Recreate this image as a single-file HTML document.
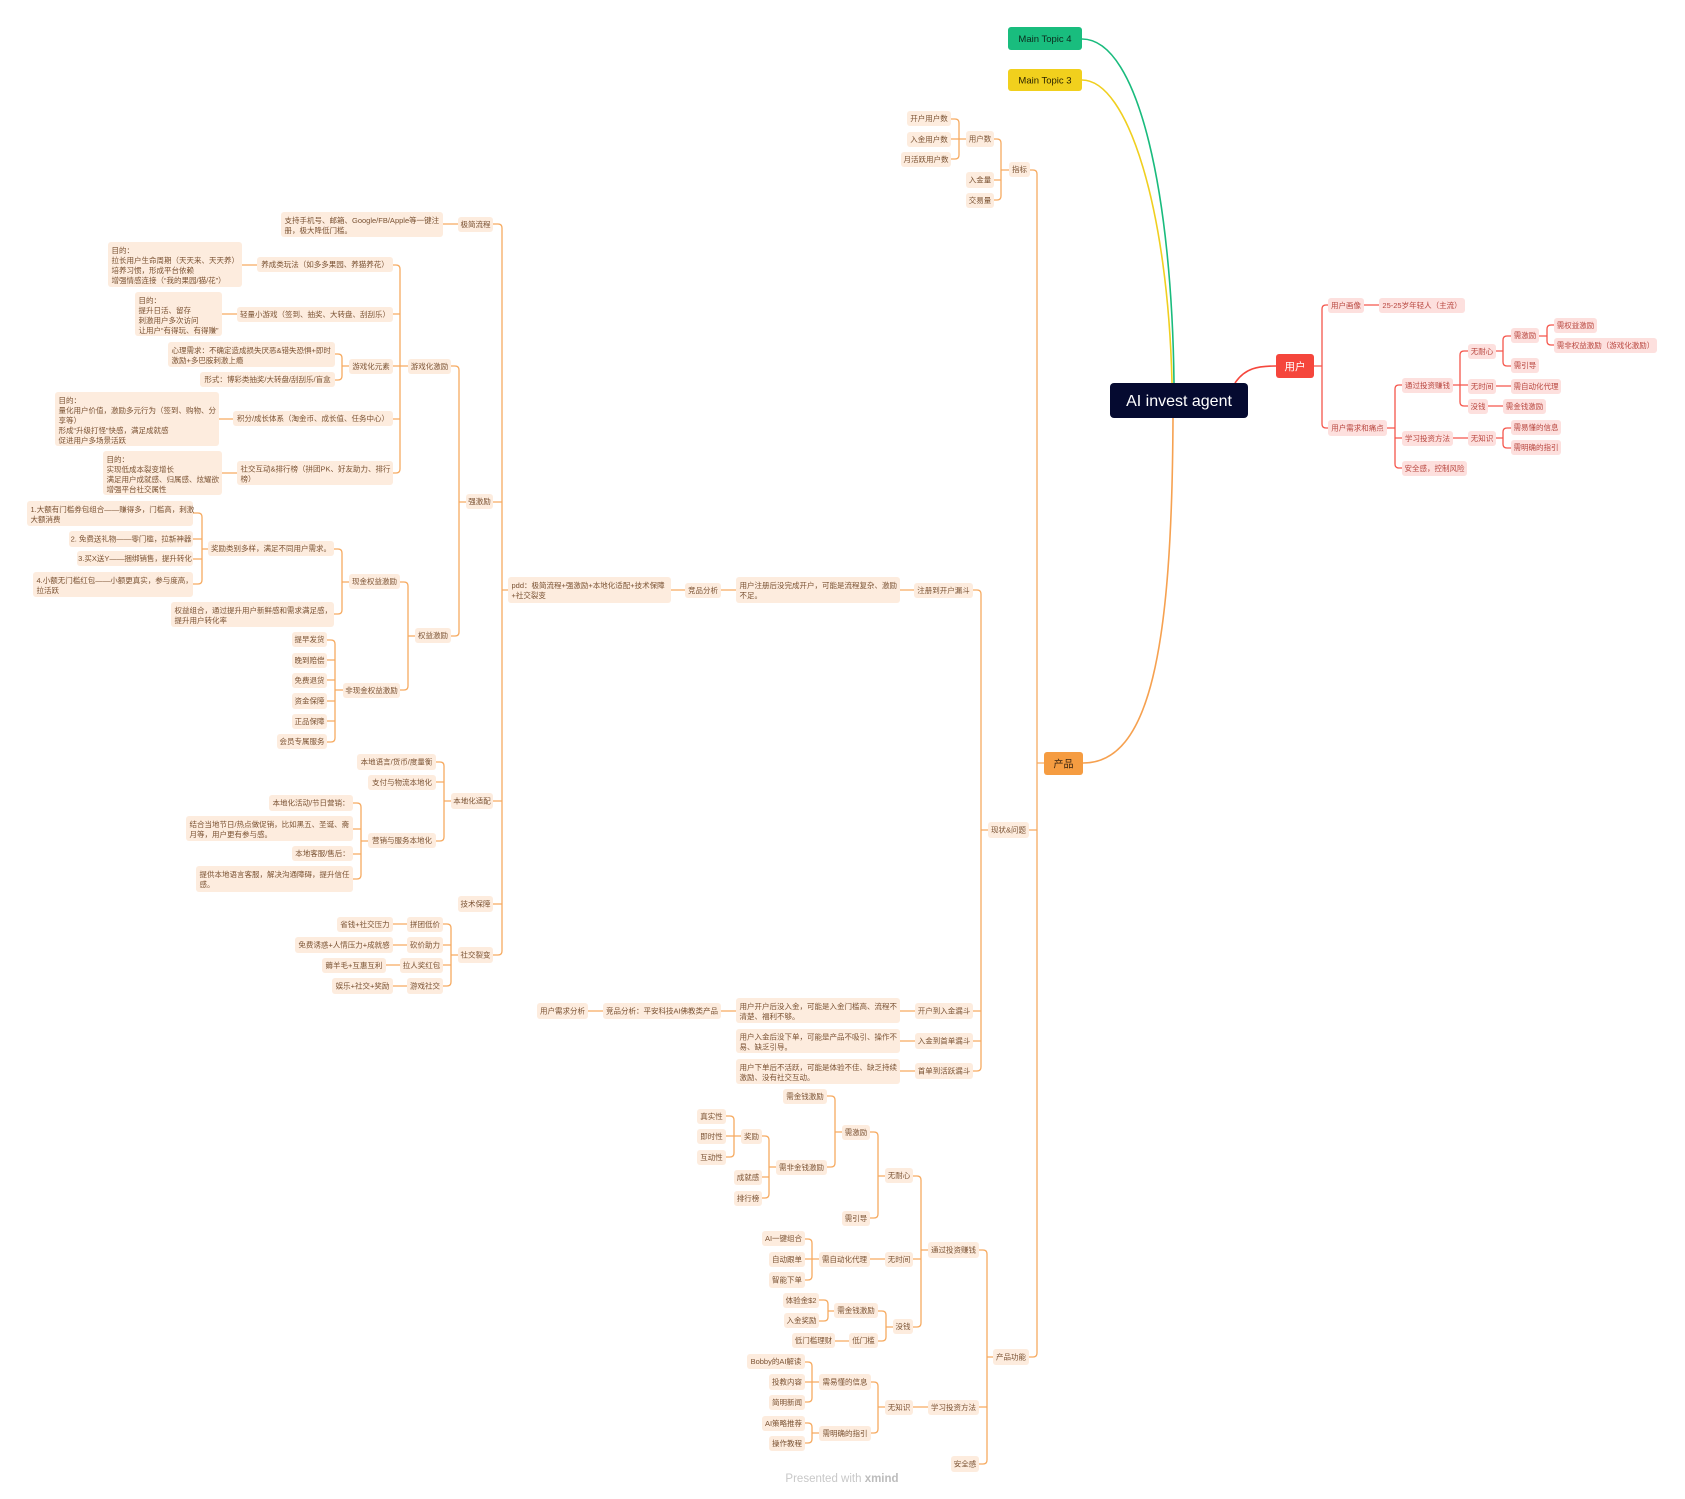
<!DOCTYPE html>
<html><head><meta charset="utf-8">
<style>
html,body{margin:0;padding:0;background:#fff;}
svg{display:block;}
svg text{font-family:"Liberation Sans","Noto Sans CJK SC",sans-serif;font-size:7.5px;}
.o rect{fill:#fdecde;}
.o text{fill:#7a5233;}
.r rect{fill:#fde0de;}
.r text{fill:#b8463f;}
.c{text-anchor:middle;}
.lo{stroke:#f6aa60;fill:none;stroke-width:1.3;}
.lr{stroke:#f5564c;fill:none;stroke-width:1.3;}
</style></head>
<body>
<svg width="1685" height="1499" viewBox="0 0 1685 1499" xmlns="http://www.w3.org/2000/svg">
<!-- main curves -->
<path d="M1082,39 C1140,39 1172,200 1174,383" stroke="#19bb7d" stroke-width="1.6" fill="none"/>
<path d="M1082,80 C1128,80 1168,210 1172,383" stroke="#f0cf1f" stroke-width="1.6" fill="none"/>
<path d="M1173,418 C1172,650 1150,763 1083,763" stroke="#f6a150" stroke-width="1.6" fill="none"/>
<path d="M1235,383 C1245,368 1258,366 1276,366" stroke="#f5473d" stroke-width="1.6" fill="none"/>

<!-- orange connectors -->
<path class="lo" d="
M1044,763 H1037 M1037,763 V174 Q1037,170 1033,170 H1030 M1037,830 H1029 M1037,763 V1353 Q1037,1357 1033,1357 H1029
M1009,170 H1001 M1001,170 V143 Q1001,139 997,139 H994 M1001,180 H994 M1001,170 V196 Q1001,200 997,200 H994
M966,139 H951 M959,139 V123 Q959,119 955,119 H951 M959,139 V155 Q959,159 955,159 H951
M988,830 H981 M981,830 V594 Q981,590 977,590 H973 M981,1011 H973 M981,1041 H973 M981,830 V1067 Q981,1071 977,1071 H973
M914,590 H900 M736,590 H721 M685,590 H671
M915,1011 H900 M736,1011 H721 M603,1011 H588
M915,1041 H900 M915,1071 H900
M508,590 H502 M502,590 V228 Q502,224 498,224 H493 M502,502 H493 M502,801 H493 M502,904 H493 M502,590 V951 Q502,955 498,955 H493
M458,224 H443
M466,502 H459 M459,502 V370 Q459,366 455,366 H451 M459,502 V632 Q459,636 455,636 H451
M408,366 H393 M400,366 V269 Q400,265 396,265 H393 M400,314 H393 M400,419 H393 M400,366 V469 Q400,473 396,473 H393
M257,265 H242 M237,314 H222 M233,419 H219 M237,473 H222
M349,366 H342 M342,366 V358 Q342,354 338,354 H335 M342,366 V376 Q342,380 338,380 H335
M415,636 H408 M408,636 V586 Q408,582 404,582 H400 M408,636 V686 Q408,690 404,690 H400
M349,582 H342 M342,582 V553 Q342,549 338,549 H334 M342,582 V610 Q342,614 338,614 H334
M208,549 H202 M202,549 V517 Q202,513 198,513 H193 M202,539 H193 M202,559 H193 M202,549 V580 Q202,584 198,584 H193
M343,690 H335 M335,690 V644 Q335,640 331,640 H327 M335,660 H327 M335,680 H327 M335,701 H327 M335,721 H327 M335,690 V738 Q335,742 331,742 H327
M451,801 H444 M444,801 V766 Q444,762 440,762 H436 M444,782 H436 M444,801 V837 Q444,841 440,841 H436
M368,841 H361 M361,841 V807 Q361,803 357,803 H353 M361,829 H353 M361,854 H353 M361,841 V875 Q361,879 357,879 H353
M458,955 H451 M451,955 V928 Q451,924 447,924 H443 M451,945 H443 M451,965 H443 M451,955 V982 Q451,986 447,986 H443
M407,924 H393 M407,945 H393 M400,965 H386 M407,986 H393
M993,1357 H987 M987,1357 V1254 Q987,1250 983,1250 H979 M987,1407 H979 M987,1357 V1460 Q987,1464 983,1464 H979
M928,1250 H921 M921,1250 V1180 Q921,1176 917,1176 H913 M921,1259 H913 M921,1250 V1323 Q921,1327 917,1327 H913
M885,1176 H878 M878,1176 V1136 Q878,1132 874,1132 H870 M878,1176 V1214 Q878,1218 874,1218 H870
M842,1132 H835 M835,1132 V1100 Q835,1096 831,1096 H827 M835,1132 V1163 Q835,1167 831,1167 H827
M776,1167 H769 M769,1167 V1140 Q769,1136 765,1136 H762 M769,1177 H762 M769,1167 V1194 Q769,1198 765,1198 H762
M741,1136 H726 M734,1136 V1120 Q734,1116 730,1116 H726 M734,1136 V1153 Q734,1157 730,1157 H726
M885,1259 H870
M819,1259 H805 M812,1259 V1243 Q812,1239 808,1239 H805 M812,1259 V1276 Q812,1280 808,1280 H805
M893,1327 H886 M886,1327 V1315 Q886,1311 882,1311 H878 M886,1327 V1337 Q886,1341 882,1341 H878
M834,1311 H828 M828,1311 V1304 Q828,1300 824,1300 H819 M828,1311 V1317 Q828,1321 824,1321 H819
M849,1341 H835
M928,1407 H913
M885,1407 H878 M878,1407 V1386 Q878,1382 874,1382 H871 M878,1407 V1429 Q878,1433 874,1433 H871
M819,1382 H805 M812,1382 V1366 Q812,1362 808,1362 H805 M812,1382 V1398 Q812,1402 808,1402 H805
M819,1433 H812 M812,1433 V1427 Q812,1423 808,1423 H805 M812,1433 V1439 Q812,1443 808,1443 H805
"/>

<!-- red connectors -->
<path class="lr" d="
M1314,366 H1322 M1322,366 V309 Q1322,305 1326,305 H1328 M1322,366 V424 Q1322,428 1326,428 H1328
M1364,305 H1379
M1387,428 H1395 M1395,428 V389 Q1395,385 1399,385 H1402 M1395,438 H1402 M1395,428 V464 Q1395,468 1399,468 H1402
M1453,385 H1468 M1460,385 V355 Q1460,351 1464,351 H1468 M1460,385 V402 Q1460,406 1464,406 H1468
M1496,351 H1503 M1503,351 V340 Q1503,336 1507,336 H1511 M1503,351 V362 Q1503,366 1507,366 H1511
M1539,336 H1547 M1547,336 V329 Q1547,325 1551,325 H1554 M1547,336 V341 Q1547,345 1551,345 H1554
M1496,386 H1511 M1488,406 H1503 M1453,438 H1468
M1496,438 H1503 M1503,438 V432 Q1503,428 1507,428 H1511 M1503,438 V444 Q1503,448 1507,448 H1511
"/>

<!-- main nodes -->
<rect x="1110" y="383" width="138" height="35" rx="4" fill="#050a30"/>
<text x="1179" y="406" text-anchor="middle" fill="#ffffff" style="font-size:16px;font-family:'Liberation Sans',sans-serif;">AI invest agent</text>
<rect x="1008" y="27" width="74" height="23" rx="3" fill="#19bd7e"/>
<text x="1045" y="42" text-anchor="middle" fill="#0d2a1d" style="font-size:9.5px;">Main Topic 4</text>
<rect x="1008" y="69" width="74" height="22" rx="3" fill="#f1d01d"/>
<text x="1045" y="83.5" text-anchor="middle" fill="#2a2300" style="font-size:9.5px;">Main Topic 3</text>
<rect x="1276" y="354" width="38" height="24" rx="3" fill="#f5463c"/>
<text x="1295" y="369.8" text-anchor="middle" fill="#ffffff" style="font-size:10.5px;">用户</text>
<rect x="1044" y="752" width="39" height="23" rx="3" fill="#f59c41"/>
<text x="1063.5" y="767.3" text-anchor="middle" fill="#3a2410" style="font-size:10px;">产品</text>

<!-- orange single-line nodes -->
<g class="o">
<rect x="1009" y="162" width="21" height="15" rx="3"/><text class="c" x="1019.5" y="172.2">指标</text>
<rect x="966" y="131" width="28" height="16" rx="3"/><text class="c" x="980" y="141.7">用户数</text>
<rect x="966" y="172" width="28" height="16" rx="3"/><text class="c" x="980" y="182.7">入金量</text>
<rect x="966" y="193" width="28" height="15" rx="3"/><text class="c" x="980" y="203.2">交易量</text>
<rect x="907" y="111" width="44" height="15" rx="3"/><text class="c" x="929" y="121.2">开户用户数</text>
<rect x="907" y="132" width="44" height="15" rx="3"/><text class="c" x="929" y="142.2">入金用户数</text>
<rect x="901" y="152" width="50" height="15" rx="3"/><text class="c" x="926" y="162.2">月活跃用户数</text>
<rect x="988" y="822" width="41" height="16" rx="3"/><text class="c" x="1008.5" y="832.7">现状&amp;问题</text>
<rect x="914" y="583" width="59" height="15" rx="3"/><text class="c" x="943.5" y="593.2">注册到开户漏斗</text>
<rect x="685" y="583" width="36" height="15" rx="3"/><text class="c" x="703" y="593.2">竞品分析</text>
<rect x="915" y="1003" width="58" height="16" rx="3"/><text class="c" x="944" y="1013.7">开户到入金漏斗</text>
<rect x="915" y="1033" width="58" height="16" rx="3"/><text class="c" x="944" y="1043.7">入金到首单漏斗</text>
<rect x="915" y="1063" width="58" height="16" rx="3"/><text class="c" x="944" y="1073.7">首单到活跃漏斗</text>
<rect x="603" y="1003" width="118" height="16" rx="3"/><text class="c" x="662" y="1013.7">竞品分析：平安科技AI佛教类产品</text>
<rect x="537" y="1003" width="51" height="16" rx="3"/><text class="c" x="562.5" y="1013.7">用户需求分析</text>
<rect x="993" y="1349" width="36" height="16" rx="3"/><text class="c" x="1011" y="1359.7">产品功能</text>
<rect x="928" y="1242" width="51" height="16" rx="3"/><text class="c" x="953.5" y="1252.7">通过投资赚钱</text>
<rect x="928" y="1400" width="51" height="15" rx="3"/><text class="c" x="953.5" y="1410.2">学习投资方法</text>
<rect x="951" y="1456" width="28" height="16" rx="3"/><text class="c" x="965" y="1466.7">安全感</text>
<rect x="885" y="1168" width="28" height="15" rx="3"/><text class="c" x="899" y="1178.2">无耐心</text>
<rect x="885" y="1252" width="28" height="15" rx="3"/><text class="c" x="899" y="1262.2">无时间</text>
<rect x="893" y="1319" width="20" height="15" rx="3"/><text class="c" x="903" y="1329.2">没钱</text>
<rect x="842" y="1125" width="28" height="15" rx="3"/><text class="c" x="856" y="1135.2">需激励</text>
<rect x="842" y="1211" width="28" height="15" rx="3"/><text class="c" x="856" y="1221.2">需引导</text>
<rect x="783" y="1089" width="44" height="15" rx="3"/><text class="c" x="805" y="1099.2">需金钱激励</text>
<rect x="776" y="1160" width="51" height="15" rx="3"/><text class="c" x="801.5" y="1170.2">需非金钱激励</text>
<rect x="741" y="1129" width="21" height="15" rx="3"/><text class="c" x="751.5" y="1139.2">奖励</text>
<rect x="734" y="1170" width="28" height="15" rx="3"/><text class="c" x="748" y="1180.2">成就感</text>
<rect x="734" y="1191" width="28" height="15" rx="3"/><text class="c" x="748" y="1201.2">排行榜</text>
<rect x="697" y="1109" width="29" height="15" rx="3"/><text class="c" x="711.5" y="1119.2">真实性</text>
<rect x="697" y="1129" width="29" height="15" rx="3"/><text class="c" x="711.5" y="1139.2">即时性</text>
<rect x="697" y="1150" width="29" height="15" rx="3"/><text class="c" x="711.5" y="1160.2">互动性</text>
<rect x="819" y="1252" width="51" height="15" rx="3"/><text class="c" x="844.5" y="1262.2">需自动化代理</text>
<rect x="762" y="1231" width="43" height="15" rx="3"/><text class="c" x="783.5" y="1241.2">AI一键组合</text>
<rect x="769" y="1252" width="36" height="15" rx="3"/><text class="c" x="787" y="1262.2">自动跟单</text>
<rect x="769" y="1272" width="36" height="16" rx="3"/><text class="c" x="787" y="1282.7">智能下单</text>
<rect x="834" y="1303" width="44" height="15" rx="3"/><text class="c" x="856" y="1313.2">需金钱激励</text>
<rect x="849" y="1333" width="29" height="15" rx="3"/><text class="c" x="863.5" y="1343.2">低门槛</text>
<rect x="783" y="1293" width="36" height="15" rx="3"/><text class="c" x="801" y="1303.2">体验金$2</text>
<rect x="784" y="1313" width="35" height="15" rx="3"/><text class="c" x="801.5" y="1323.2">入金奖励</text>
<rect x="792" y="1333" width="43" height="15" rx="3"/><text class="c" x="813.5" y="1343.2">低门槛理财</text>
<rect x="885" y="1400" width="28" height="15" rx="3"/><text class="c" x="899" y="1410.2">无知识</text>
<rect x="819" y="1374" width="52" height="16" rx="3"/><text class="c" x="845" y="1384.7">需易懂的信息</text>
<rect x="819" y="1426" width="52" height="15" rx="3"/><text class="c" x="845" y="1436.2">需明确的指引</text>
<rect x="747" y="1354" width="58" height="15" rx="3"/><text class="c" x="776" y="1364.2">Bobby的AI解读</text>
<rect x="769" y="1374" width="36" height="16" rx="3"/><text class="c" x="787" y="1384.7">投教内容</text>
<rect x="769" y="1395" width="36" height="15" rx="3"/><text class="c" x="787" y="1405.2">简明新闻</text>
<rect x="762" y="1416" width="43" height="15" rx="3"/><text class="c" x="783.5" y="1426.2">AI策略推荐</text>
<rect x="769" y="1436" width="36" height="15" rx="3"/><text class="c" x="787" y="1446.2">操作教程</text>
<rect x="458" y="217" width="35" height="15" rx="3"/><text class="c" x="475.5" y="227.2">极简流程</text>
<rect x="466" y="494" width="27" height="15" rx="3"/><text class="c" x="479.5" y="504.2">强激励</text>
<rect x="408" y="359" width="43" height="15" rx="3"/><text class="c" x="429.5" y="369.2">游戏化激励</text>
<rect x="415" y="628" width="36" height="15" rx="3"/><text class="c" x="433" y="638.2">权益激励</text>
<rect x="257" y="257" width="136" height="15" rx="3"/><text class="c" x="325" y="267.2">养成类玩法（如多多果园、养猫养花）</text>
<rect x="237" y="307" width="156" height="15" rx="3"/><text class="c" x="315" y="317.2">轻量小游戏（签到、抽奖、大转盘、刮刮乐）</text>
<rect x="349" y="359" width="44" height="15" rx="3"/><text class="c" x="371" y="369.2">游戏化元素</text>
<rect x="200" y="372" width="135" height="15" rx="3"/><text class="c" x="267.5" y="382.2">形式：博彩类抽奖/大转盘/刮刮乐/盲盒</text>
<rect x="233" y="411" width="160" height="15" rx="3"/><text class="c" x="313" y="421.2">积分/成长体系（淘金币、成长值、任务中心）</text>
<rect x="349" y="574" width="51" height="15" rx="3"/><text class="c" x="374.5" y="584.2">现金权益激励</text>
<rect x="343" y="683" width="57" height="15" rx="3"/><text class="c" x="371.5" y="693.2">非现金权益激励</text>
<rect x="208" y="541" width="126" height="15" rx="3"/><text class="c" x="271" y="551.2">奖励类别多样，满足不同用户需求。</text>
<rect x="69" y="531" width="124" height="16" rx="3"/><text class="c" x="131" y="541.7">2. 免费送礼物——零门槛，拉新神器</text>
<rect x="77" y="551" width="116" height="15" rx="3"/><text class="c" x="135" y="561.2">3.买X送Y——捆绑销售，提升转化</text>
<rect x="292" y="632" width="35" height="15" rx="3"/><text class="c" x="309.5" y="642.2">提早发货</text>
<rect x="292" y="653" width="35" height="15" rx="3"/><text class="c" x="309.5" y="663.2">晚到赔偿</text>
<rect x="292" y="673" width="35" height="15" rx="3"/><text class="c" x="309.5" y="683.2">免费退货</text>
<rect x="292" y="693" width="35" height="16" rx="3"/><text class="c" x="309.5" y="703.7">资金保障</text>
<rect x="292" y="714" width="35" height="15" rx="3"/><text class="c" x="309.5" y="724.2">正品保障</text>
<rect x="277" y="734" width="50" height="15" rx="3"/><text class="c" x="302" y="744.2">会员专属服务</text>
<rect x="451" y="793" width="42" height="16" rx="3"/><text class="c" x="472" y="803.7">本地化适配</text>
<rect x="357" y="754" width="79" height="16" rx="3"/><text class="c" x="396.5" y="764.7">本地语言/货币/度量衡</text>
<rect x="368" y="775" width="68" height="15" rx="3"/><text class="c" x="402" y="785.2">支付与物流本地化</text>
<rect x="368" y="833" width="68" height="15" rx="3"/><text class="c" x="402" y="843.2">营销与服务本地化</text>
<rect x="269" y="795" width="84" height="16" rx="3"/><text class="c" x="311" y="805.7">本地化活动/节日营销：</text>
<rect x="292" y="846" width="61" height="15" rx="3"/><text class="c" x="322.5" y="856.2">本地客服/售后：</text>
<rect x="458" y="896" width="35" height="16" rx="3"/><text class="c" x="475.5" y="906.7">技术保障</text>
<rect x="458" y="947" width="35" height="16" rx="3"/><text class="c" x="475.5" y="957.7">社交裂变</text>
<rect x="407" y="917" width="36" height="15" rx="3"/><text class="c" x="425" y="927.2">拼团低价</text>
<rect x="407" y="937" width="36" height="16" rx="3"/><text class="c" x="425" y="947.7">砍价助力</text>
<rect x="400" y="958" width="43" height="15" rx="3"/><text class="c" x="421.5" y="968.2">拉人奖红包</text>
<rect x="407" y="978" width="36" height="16" rx="3"/><text class="c" x="425" y="988.7">游戏社交</text>
<rect x="337" y="917" width="56" height="15" rx="3"/><text class="c" x="365" y="927.2">省钱+社交压力</text>
<rect x="295" y="937" width="98" height="16" rx="3"/><text class="c" x="344" y="947.7">免费诱惑+人情压力+成就感</text>
<rect x="322" y="958" width="64" height="15" rx="3"/><text class="c" x="354" y="968.2">薅羊毛+互惠互利</text>
<rect x="332" y="978" width="61" height="16" rx="3"/><text class="c" x="362.5" y="988.7">娱乐+社交+奖励</text>
</g>

<!-- orange multi-line nodes -->
<g class="o">
<rect x="736" y="577" width="164" height="26" rx="3"/>
<text x="739.5" y="587.8">用户注册后没完成开户，可能是流程复杂、激励<tspan x="739.5" dy="10">不足。</tspan></text>
<rect x="508" y="577" width="163" height="26" rx="3"/>
<text x="511.5" y="587.8">pdd：极简流程+强激励+本地化适配+技术保障<tspan x="511.5" dy="10">+社交裂变</tspan></text>
<rect x="736" y="998" width="164" height="25" rx="3"/>
<text x="739.5" y="1008.8">用户开户后没入金，可能是入金门槛高、流程不<tspan x="739.5" dy="10">清楚、福利不够。</tspan></text>
<rect x="736" y="1029" width="164" height="24" rx="3"/>
<text x="739.5" y="1039.5">用户入金后没下单，可能是产品不吸引、操作不<tspan x="739.5" dy="10">易、缺乏引导。</tspan></text>
<rect x="736" y="1059" width="164" height="25" rx="3"/>
<text x="739.5" y="1069.8">用户下单后不活跃，可能是体验不佳、缺乏持续<tspan x="739.5" dy="10">激励、没有社交互动。</tspan></text>
<rect x="281" y="212" width="162" height="25" rx="3"/>
<text x="284.5" y="222.8">支持手机号、邮箱、Google/FB/Apple等一键注<tspan x="284.5" dy="10">册，极大降低门槛。</tspan></text>
<rect x="108" y="242" width="134" height="45" rx="3"/>
<text x="111.5" y="252.8">目的：<tspan x="111.5" dy="10">拉长用户生命周期（天天来、天天养）</tspan><tspan x="111.5" dy="10">培养习惯，形成平台依赖</tspan><tspan x="111.5" dy="10">增强情感连接（“我的果园/猫/花”）</tspan></text>
<rect x="135" y="292" width="87" height="44" rx="3"/>
<text x="138.5" y="302.8">目的：<tspan x="138.5" dy="10">提升日活、留存</tspan><tspan x="138.5" dy="10">刺激用户多次访问</tspan><tspan x="138.5" dy="10">让用户“有得玩、有得赚”</tspan></text>
<rect x="168" y="342" width="167" height="25" rx="3"/>
<text x="171.5" y="352.8">心理需求：不确定造成损失厌恶&amp;错失恐惧+即时<tspan x="171.5" dy="10">激励+多巴胺刺激上瘾</tspan></text>
<rect x="55" y="392" width="164" height="54" rx="3"/>
<text x="58.5" y="402.8">目的：<tspan x="58.5" dy="10">量化用户价值，激励多元行为（签到、购物、分</tspan><tspan x="58.5" dy="10">享等）</tspan><tspan x="58.5" dy="10">形成“升级打怪”快感，满足成就感</tspan><tspan x="58.5" dy="10">促进用户多场景活跃</tspan></text>
<rect x="237" y="461" width="156" height="24" rx="3"/>
<text x="240.5" y="471.5">社交互动&amp;排行榜（拼团PK、好友助力、排行<tspan x="240.5" dy="10">榜）</tspan></text>
<rect x="103" y="451" width="119" height="44" rx="3"/>
<text x="106.5" y="461.8">目的：<tspan x="106.5" dy="10">实现低成本裂变增长</tspan><tspan x="106.5" dy="10">满足用户成就感、归属感、炫耀欲</tspan><tspan x="106.5" dy="10">增强平台社交属性</tspan></text>
<rect x="171" y="602" width="163" height="25" rx="3"/>
<text x="174.5" y="612.8">权益组合，通过提升用户新鲜感和需求满足感，<tspan x="174.5" dy="10">提升用户转化率</tspan></text>
<rect x="27" y="501" width="166" height="25" rx="3"/>
<text x="30.5" y="511.8">1.大额有门槛券包组合——赚得多，门槛高，刺激<tspan x="30.5" dy="10">大额消费</tspan></text>
<rect x="33" y="572" width="160" height="25" rx="3"/>
<text x="36.5" y="582.8">4.小额无门槛红包——小额更真实，参与度高，<tspan x="36.5" dy="10">拉活跃</tspan></text>
<rect x="186" y="816" width="167" height="25" rx="3"/>
<text x="189.5" y="826.8">结合当地节日/热点做促销，比如黑五、圣诞、斋<tspan x="189.5" dy="10">月等，用户更有参与感。</tspan></text>
<rect x="196" y="866" width="157" height="26" rx="3"/>
<text x="199.5" y="876.8">提供本地语言客服，解决沟通障碍，提升信任<tspan x="199.5" dy="10">感。</tspan></text>
</g>

<!-- red nodes -->
<g class="r">
<rect x="1328" y="298" width="36" height="15" rx="3"/><text class="c" x="1346" y="308.2">用户画像</text>
<rect x="1379" y="298" width="86" height="15" rx="3"/><text class="c" x="1422" y="308.2">25-25岁年轻人（主流）</text>
<rect x="1328" y="420" width="59" height="16" rx="3"/><text class="c" x="1357.5" y="430.7">用户需求和痛点</text>
<rect x="1402" y="378" width="51" height="15" rx="3"/><text class="c" x="1427.5" y="388.2">通过投资赚钱</text>
<rect x="1402" y="431" width="51" height="15" rx="3"/><text class="c" x="1427.5" y="441.2">学习投资方法</text>
<rect x="1402" y="461" width="65" height="15" rx="3"/><text class="c" x="1434.5" y="471.2">安全感，控制风险</text>
<rect x="1468" y="344" width="28" height="15" rx="3"/><text class="c" x="1482" y="354.2">无耐心</text>
<rect x="1468" y="379" width="28" height="15" rx="3"/><text class="c" x="1482" y="389.2">无时间</text>
<rect x="1468" y="399" width="20" height="15" rx="3"/><text class="c" x="1478" y="409.2">没钱</text>
<rect x="1511" y="328" width="28" height="15" rx="3"/><text class="c" x="1525" y="338.2">需激励</text>
<rect x="1511" y="358" width="28" height="15" rx="3"/><text class="c" x="1525" y="368.2">需引导</text>
<rect x="1554" y="318" width="43" height="15" rx="3"/><text class="c" x="1575.5" y="328.2">需权益激励</text>
<rect x="1554" y="338" width="103" height="15" rx="3"/><text class="c" x="1605.5" y="348.2">需非权益激励（游戏化激励）</text>
<rect x="1511" y="379" width="50" height="15" rx="3"/><text class="c" x="1536" y="389.2">需自动化代理</text>
<rect x="1503" y="399" width="43" height="15" rx="3"/><text class="c" x="1524.5" y="409.2">需金钱激励</text>
<rect x="1468" y="431" width="28" height="15" rx="3"/><text class="c" x="1482" y="441.2">无知识</text>
<rect x="1511" y="420" width="50" height="15" rx="3"/><text class="c" x="1536" y="430.2">需易懂的信息</text>
<rect x="1511" y="440" width="50" height="15" rx="3"/><text class="c" x="1536" y="450.2">需明确的指引</text>
</g>

<text x="842" y="1482" text-anchor="middle" fill="#c8c8c8" style="font-size:11.5px;">Presented with <tspan font-weight="bold" fill="#bcbcbc">xmind</tspan></text>
</svg>
</body></html>
